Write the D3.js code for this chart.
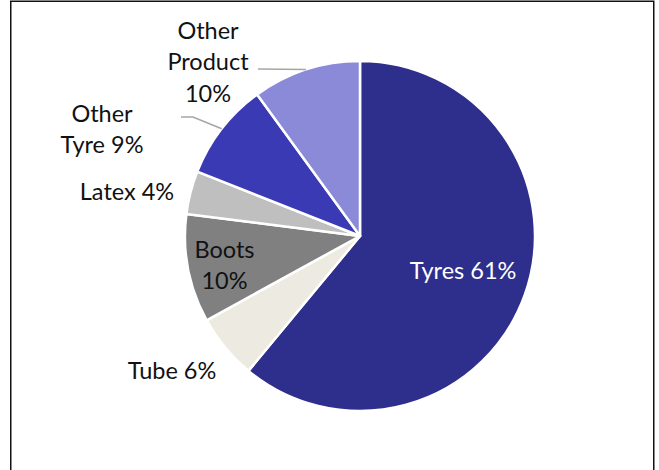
<!DOCTYPE html>
<html>
<head>
<meta charset="utf-8">
<script src="https://cdn.jsdelivr.net/npm/d3@7"></script>
<style>
  html, body { margin: 0; padding: 0; background: #fff; }
  svg { display: block; }
  text { font-family: Lato, "Open Sans", sans-serif; }
</style>
</head>
<body>
<svg id="chart" width="659" height="470"></svg>
<script>
// Revenue share by product segment
const categories = ["Tyres", "Tube", "Boots", "Latex", "Other Tyre", "Other Product"];
const shares = [61, 6, 10, 4, 9, 10];
const colors = ["#2e2e8c", "#edebe1", "#808080", "#bfbfbf", "#3b3ab5", "#8a8ad9"];
// label text lines per slice
const labelLines = [
  ["Tyres 61%"],
  ["Tube 6%"],
  ["Boots", "10%"],
  ["Latex 4%"],
  ["Other", "Tyre 9%"],
  ["Other", "Product", "10%"]
];

const W = 659, H = 470;
const cx = 360, cy = 236, R = 175;
const fontSize = 23.5, lineH = 31.5;

const svg = d3.select("#chart");

// outer frame
svg.append("rect")
  .attr("x", 10.75).attr("y", 1.25)
  .attr("width", 643).attr("height", 480)
  .attr("fill", "none").attr("stroke", "#111").attr("stroke-width", 1.5);

const data = categories.map((c, i) => ({ name: c, value: shares[i], color: colors[i], lines: labelLines[i] }));

const pie = d3.pie().sort(null).value(d => d.value).startAngle(0).endAngle(2 * Math.PI);
const arcs = pie(data);
const arc = d3.arc().innerRadius(0).outerRadius(R);

const g = svg.append("g").attr("transform", `translate(${cx},${cy})`);

g.selectAll("path.slice")
  .data(arcs)
  .join("path")
  .attr("class", "slice")
  .attr("d", arc)
  .attr("fill", d => d.data.color)
  .attr("stroke", "#fff")
  .attr("stroke-width", 2.5)
  .attr("stroke-linejoin", "round");

// label anchor points (centre of text block, relative to pie centre)
const labelAnchor = {
  "Tyres": [103, 35],
  "Tube": [-188, 134.5],
  "Boots": [-135.5, 29],
  "Latex": [-233, -44],
  "Other Tyre": [-258, -107],
  "Other Product": [-152, -174.3]
};

const mid = d => (d.startAngle + d.endAngle) / 2;
const edgePoint = d => [R * Math.sin(mid(d)), -R * Math.cos(mid(d))];

// leader lines for the two small top-left slices
const leaders = {
  "Other Tyre": d => [[-179, -119], [-167, -119], edgePoint(d)],
  "Other Product": d => [[-102, -167], edgePoint(d)]
};

arcs.forEach(d => {
  const f = leaders[d.data.name];
  if (!f) return;
  g.append("path")
    .attr("d", d3.line()(f(d)))
    .attr("fill", "none")
    .attr("stroke", "#a6a6a6")
    .attr("stroke-width", 1.5);
});

arcs.forEach(d => {
  const [ax, ay] = labelAnchor[d.data.name];
  const lines = d.data.lines;
  const n = lines.length;
  const t = g.append("text")
    .attr("text-anchor", "middle")
    .attr("font-size", fontSize)
    .attr("fill", d.data.name === "Tyres" ? "#ffffff" : "#111111");
  lines.forEach((ln, i) => {
    t.append("tspan")
      .attr("x", ax)
      .attr("y", ay + (i - (n - 1) / 2) * lineH + fontSize * 0.36)
      .text(ln);
  });
});
</script>
</body>
</html>
